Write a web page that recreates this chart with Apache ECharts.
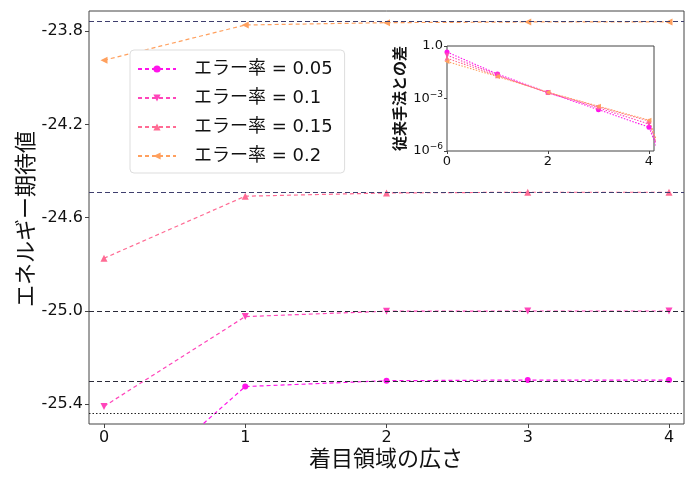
<!DOCTYPE html>
<html><head><meta charset="utf-8">
<script src="https://cdn.jsdelivr.net/npm/echarts@6/dist/echarts.min.js"></script>
<style>html,body{margin:0;padding:0;background:#fff}#c{width:700px;height:480px}</style>
</head><body><div id="c"></div>
<script>
// ---- data ----
const widths = [0, 1, 2, 3, 4];
const seriesNames = ['エラー率 = 0.05', 'エラー率 = 0.1', 'エラー率 = 0.15', 'エラー率 = 0.2'];
const energy005 = [-25.86, -25.324, -25.299, -25.296, -25.296];
const energy010 = [-25.409, -25.024, -25.001, -25.0, -25.0];
const energy015 = [-24.774, -24.508, -24.494, -24.491, -24.491];
const energy020 = [-23.925, -23.774, -23.764, -23.761, -23.761];
const exactLevels = [-23.757, -24.487, -24.999, -25.295];
const dottedLevel = -25.439;
const yTicks = [-25.4, -25.0, -24.6, -24.2, -23.8];
const xTicks = [0, 1, 2, 3, 4];
const xTitle = '着目領域の広さ';
const yTitle = 'エネルギー期待値';
const insetTitle = '従来手法との差';

const insetWidths = [0, 1, 2, 3, 4, 5];
const diff005 = [0.45, 0.025, 0.0022, 2.3e-4, 2.3e-5, 1e-12];
const diff010 = [0.3, 0.022, 0.0021, 2.9e-4, 3.5e-5, 1e-12];
const diff015 = [0.2, 0.02, 0.0022, 3.4e-4, 5.2e-5, 1e-12];
const diff020 = [0.13, 0.018, 0.0023, 3.6e-4, 5.8e-5, 1e-12];
const insetYTicks = [1e-6, 1e-3, 1];
const insetXTicks = [0, 2, 4];

// ---- style ----
const colors = ['#ff14ea', '#ff45ba', '#ff6b94', '#ffa05e'];
const symbols = ['circle', 'triangle', 'triangle', 'triangle'];
const rotations = [0, 180, 0, 90];
const FONT = 'DejaVu Sans, "Noto Sans CJK JP", sans-serif';
const energies = [energy005, energy010, energy015, energy020];
const diffs = [diff005, diff010, diff015, diff020];

const series = [];
energies.forEach((arr, i) => {
  series.push({
    name: seriesNames[i], type: 'line', xAxisIndex: 0, yAxisIndex: 0,
    data: widths.map((x, k) => [x, arr[k]]),
    symbol: symbols[i], symbolRotate: rotations[i], symbolSize: i === 0 ? 6 : 7,
    lineStyle: { color: colors[i], type: [4, 3], width: 1.2 },
    itemStyle: { color: colors[i] }, clip: true, z: 3
  });
});
series.push({
  name: 'ref', type: 'line', xAxisIndex: 0, yAxisIndex: 0, data: [], silent: true,
  markLine: {
    silent: true, symbol: 'none', label: { show: false },
    data: exactLevels.map((v, i) => ({ yAxis: v, lineStyle: { color: i < 2 ? '#3f3f6e' : '#2a2a38', type: [5, 3], width: 1.1 } }))
      .concat([{ yAxis: dottedLevel, lineStyle: { color: '#222', type: [1.5, 2], width: 1 } }])
  }, z: 4
});
diffs.forEach((arr, i) => {
  series.push({
    name: seriesNames[i] + '_inset', type: 'line', xAxisIndex: 1, yAxisIndex: 1,
    data: insetWidths.map((x, k) => [x, arr[k]]),
    symbol: symbols[i], symbolRotate: rotations[i], symbolSize: 5,
    lineStyle: { color: colors[i], type: [1.5, 1.5], width: 1.1 },
    itemStyle: { color: colors[i] }, clip: true, z: 6
  });
});

const chart = echarts.init(document.getElementById('c'));
chart.setOption({
  animation: false,
  backgroundColor: '#fff',
  textStyle: { fontFamily: FONT },
  grid: [
    { left: 89, right: 16, top: 11, bottom: 56, show: true, borderColor: '#444', borderWidth: 1, backgroundColor: 'transparent' },
    { left: 447, right: 46, top: 46, bottom: 329, show: true, borderColor: '#444', borderWidth: 1, backgroundColor: '#fff', z: 5 }
  ],
  graphic: [
    { type: 'text', x: 386, y: 460, z: 20,
      style: { text: xTitle, font: '22px ' + FONT, fill: '#111', align: 'center', verticalAlign: 'middle' } },
    { type: 'text', x: 27, y: 219, rotation: Math.PI / 2, z: 20,
      style: { text: yTitle, font: '22px ' + FONT, fill: '#111', align: 'center', verticalAlign: 'middle' } }
  ],
  xAxis: [
    { type: 'value', gridIndex: 0, min: -0.106, max: 4.106,
      axisLine: { show: false, onZero: false }, splitLine: { show: false },
      axisTick: { show: true, inside: false, customValues: xTicks, length: 4, lineStyle: { color: '#444' } },
      axisLabel: { customValues: xTicks, fontSize: 16, color: '#111', margin: 6 } },
    { type: 'value', gridIndex: 1, min: 0, max: 4.1, z: 6,
      axisLine: { show: false, onZero: false }, splitLine: { show: false },
      axisTick: { show: true, inside: false, customValues: insetXTicks, length: 3, lineStyle: { color: '#444' } },
      axisLabel: { customValues: insetXTicks, fontSize: 13, color: '#111', margin: 4 } }
  ],
  yAxis: [
    { type: 'value', gridIndex: 0, min: -25.4845, max: -23.714,
      axisLine: { show: false, onZero: false }, splitLine: { show: false },
      axisTick: { show: true, inside: false, customValues: yTicks, length: 4, lineStyle: { color: '#444' } },
      axisLabel: { customValues: yTicks, fontSize: 16, color: '#111', margin: 6, formatter: v => v.toFixed(1) } },
    { type: 'log', gridIndex: 1, logBase: 10, min: 1e-6, max: 1, z: 6,
      name: insetTitle, nameLocation: 'middle', nameGap: 38, nameRotate: 90,
      nameTextStyle: { fontSize: 15, color: '#111', fontWeight: 'bold', fontFamily: FONT },
      axisLine: { show: false, onZero: false }, splitLine: { show: false }, minorTick: { show: false },
      axisTick: { show: true, inside: false, customValues: insetYTicks, length: 3, lineStyle: { color: '#444' } },
      axisLabel: { customValues: insetYTicks, fontSize: 13, color: '#111', margin: 4,
        formatter: v => v >= 0.5 ? '1.0' : '10{s|−' + Math.round(-Math.log10(v)) + '}',
        rich: { s: { fontSize: 9, verticalAlign: 'top', padding: [0, 0, 8, 0], color: '#111' } } } }
  ],
  legend: {
    data: seriesNames, orient: 'vertical', left: 130, top: 50,
    backgroundColor: '#fff', borderColor: '#ddd', borderWidth: 1, borderRadius: 4,
    padding: [10, 12, 8, 7], itemWidth: 38, itemHeight: 9, itemGap: 11,
    textStyle: { fontSize: 18, lineHeight: 18, color: '#111', fontFamily: FONT, padding: [0, 0, 0, 13] },
    z: 10
  },
  series: series
});
</script></body></html>
